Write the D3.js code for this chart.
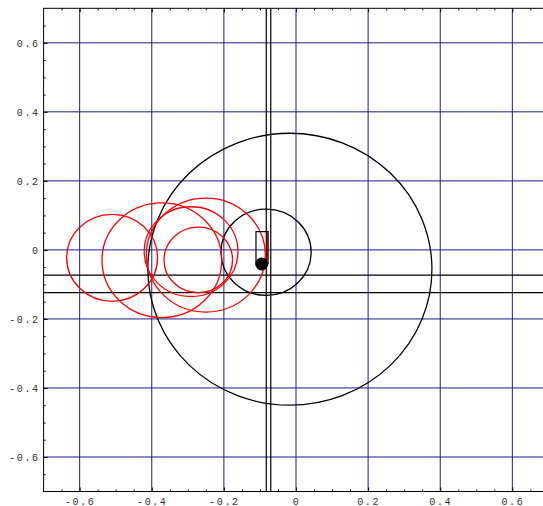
<!DOCTYPE html>
<html>
<head>
<meta charset="utf-8">
<script src="https://cdn.jsdelivr.net/npm/d3@7"></script>
<style>
  body { margin: 0; background: #fff; }
  svg { display: block; }
  .tick text { font-family: "Liberation Mono", "Courier New", monospace; font-size: 10px; letter-spacing: 1.6px; fill: #333; }
</style>
</head>
<body>
<svg id="chart" width="543" height="506"></svg>
<script>
// tick values and labels
var majorTicks = [-0.6, -0.4, -0.2, 0, 0.2, 0.4, 0.6];
var tickLabels = ["-0.6", "-0.4", "-0.2", "0", "0.2", "0.4", "0.6"];
var minorTicks = [-0.65, -0.55, -0.5, -0.45, -0.35, -0.3, -0.25, -0.15, -0.1, -0.05, 0.05, 0.1, 0.15, 0.25, 0.3, 0.35, 0.45, 0.5, 0.55, 0.65];

// black circles: [cx, cy, r]
var blackCircles = [[-0.017, -0.056, 0.394], [-0.083, -0.007, 0.125]];
// red circles: [cx, cy, r]
var redCircles = [[-0.51, -0.023, 0.126], [-0.372, -0.03, 0.166], [-0.25, -0.015, 0.165], [-0.291, -0.005, 0.13], [-0.271, -0.029, 0.095]];
// straight lines
var vLines = [-0.0824, -0.070];
var hLines = [-0.073, -0.1235];
// rectangle [x0, y0, x1, y1], red segment [x, y0, y1], dot [x, y]
var box = [-0.111, -0.04, -0.0775, 0.053];
var redSegment = [-0.0785, 0.05, -0.03];
var dot = [-0.095, -0.0405];

var svg = d3.select("#chart");
var x = d3.scaleLinear().domain([-0.7, 0.7]).range([43.6, 548.4]);
var y = d3.scaleLinear().domain([-0.7, 0.7]).range([491.5, 8.3]);
var x0 = x.range()[0], x1 = x.range()[1], y0 = y.range()[1], y1 = y.range()[0];

var plot = svg.append("g");

// Grid lines
var grid = plot.append("g").attr("stroke", "#1c1c8a").attr("stroke-width", 1);
grid.selectAll("line.gx").data(majorTicks).enter().append("line")
  .attr("x1", function(d) { return x(d); }).attr("x2", function(d) { return x(d); })
  .attr("y1", y0).attr("y2", y1);
grid.selectAll("line.gy").data(majorTicks).enter().append("line")
  .attr("y1", function(d) { return y(d); }).attr("y2", function(d) { return y(d); })
  .attr("x1", x0).attr("x2", x1);

// Black lines across the frame
var lines = plot.append("g").attr("stroke", "#000").attr("stroke-width", 1.2);
lines.selectAll("line.v").data(vLines).enter().append("line")
  .attr("x1", function(d) { return x(d); }).attr("x2", function(d) { return x(d); })
  .attr("y1", y0).attr("y2", y1);
lines.selectAll("line.h").data(hLines).enter().append("line")
  .attr("y1", function(d) { return y(d); }).attr("y2", function(d) { return y(d); })
  .attr("x1", x0).attr("x2", x1);

// Circles (drawn as ellipses since the axes have different scales)
var ellipse = function(sel, color) {
  sel.enter().append("ellipse")
    .attr("cx", function(d) { return x(d[0]); })
    .attr("cy", function(d) { return y(d[1]); })
    .attr("rx", function(d) { return x(d[2]) - x(0); })
    .attr("ry", function(d) { return y(0) - y(d[2]); })
    .attr("fill", "none").attr("stroke", color).attr("stroke-width", 1.3);
};
ellipse(plot.append("g").selectAll("ellipse").data(blackCircles), "#000");
ellipse(plot.append("g").selectAll("ellipse").data(redCircles), "#ff0000");

// Rectangle, red segment and dot
plot.append("rect")
  .attr("x", x(box[0])).attr("y", y(box[3]))
  .attr("width", x(box[2]) - x(box[0])).attr("height", y(box[1]) - y(box[3]))
  .attr("fill", "none").attr("stroke", "#000").attr("stroke-width", 1.2);
plot.append("line")
  .attr("x1", x(redSegment[0])).attr("x2", x(redSegment[0]))
  .attr("y1", y(redSegment[1])).attr("y2", y(redSegment[2]))
  .attr("stroke", "#a00000").attr("stroke-width", 1.2);
plot.append("circle").attr("cx", x(dot[0])).attr("cy", y(dot[1])).attr("r", 6.5).attr("fill", "#000");

// Axes
var fmt = function(d) { return tickLabels[majorTicks.indexOf(d)]; };
var axes = svg.append("g");
var bottom = axes.append("g").attr("transform", "translate(0," + y1 + ")")
  .call(d3.axisBottom(x).tickValues(majorTicks).tickSizeInner(-4).tickSizeOuter(0).tickPadding(7.5).tickFormat(fmt));
axes.append("g").attr("transform", "translate(0," + y1 + ")")
  .call(d3.axisBottom(x).tickValues(minorTicks).tickSizeInner(-2).tickSizeOuter(0).tickFormat(""));
axes.append("g").attr("transform", "translate(0," + y0 + ")")
  .call(d3.axisTop(x).tickValues(majorTicks).tickSizeInner(-4).tickSizeOuter(0).tickFormat(""));
axes.append("g").attr("transform", "translate(0," + y0 + ")")
  .call(d3.axisTop(x).tickValues(minorTicks).tickSizeInner(-2).tickSizeOuter(0).tickFormat(""));
axes.append("g").attr("transform", "translate(" + x0 + ",0)")
  .call(d3.axisLeft(y).tickValues(majorTicks).tickSizeInner(-4).tickSizeOuter(0).tickPadding(4).tickFormat(fmt));
axes.append("g").attr("transform", "translate(" + x0 + ",0)")
  .call(d3.axisLeft(y).tickValues(minorTicks).tickSizeInner(-2).tickSizeOuter(0).tickFormat(""));
axes.append("g").attr("transform", "translate(" + x1 + ",0)")
  .call(d3.axisRight(y).tickValues(majorTicks).tickSizeInner(-4).tickSizeOuter(0).tickFormat(""));
axes.selectAll(".domain").remove();
axes.selectAll(".tick line").attr("stroke", "#000");
bottom.selectAll(".tick text").attr("dy", "0.55em");

// Frame
svg.append("rect").attr("x", x0).attr("y", y0).attr("width", x1 - x0).attr("height", y1 - y0)
  .attr("fill", "none").attr("stroke", "#000").attr("stroke-width", 1);
</script>
</body>
</html>
